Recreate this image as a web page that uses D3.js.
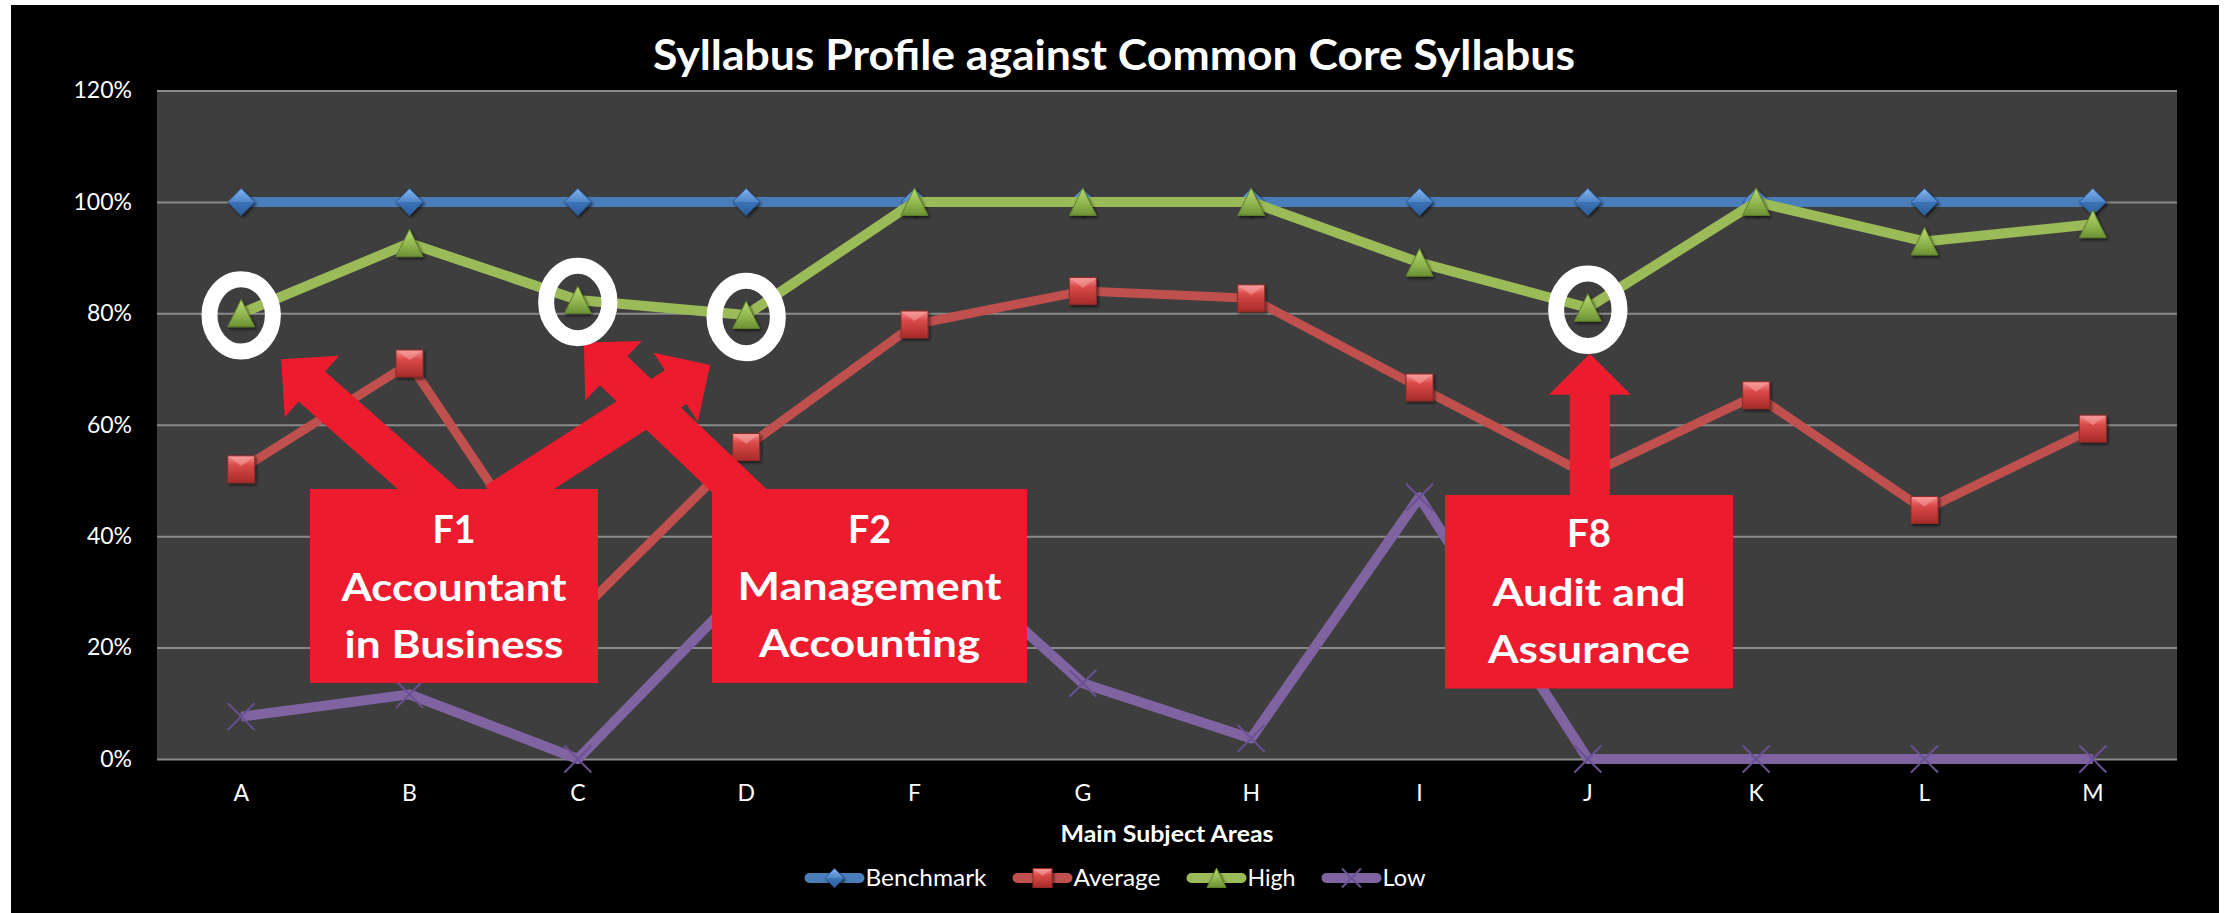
<!DOCTYPE html>
<html><head><meta charset="utf-8">
<script src="https://cdn.jsdelivr.net/npm/d3@7"></script>
<style>
body{margin:0;background:#fff}
text{font-family:Lato,"Open Sans",sans-serif}
</style>
</head><body>
<svg id="chart" width="2231" height="913"></svg>
<script>
// ---------------- data ----------------
const categories = ["A","B","C","D","F","G","H","I","J","K","L","M"];
const benchmark  = [1.00,1.00,1.00,1.00,1.00,1.00,1.00,1.00,1.00,1.00,1.00,1.00];
const average    = [0.52,0.71,0.26,0.56,0.78,0.84,0.827,0.667,0.51,0.653,0.447,0.593];
const high       = [0.80,0.926,0.824,0.797,1.00,1.00,1.00,0.891,0.81,1.00,0.929,0.96];
const low        = [0.076,0.116,0.00,0.31,0.41,0.136,0.037,0.47,0.00,0.00,0.00,0.00];
const seriesNames = ["Benchmark","Average","High","Low"];
const yTicks = [0,0.2,0.4,0.6,0.8,1.0,1.2];
const chartTitle = "Syllabus Profile against Common Core Syllabus";
const xAxisTitle = "Main Subject Areas";
const calloutLines = [["F1","Accountant","in Business"],["F2","Management","Accounting"],["F8","Audit and","Assurance"]];
const circledCats = ["A","C","D","J"];

// ---------------- layout / style ----------------
const W = 2231, H = 913;
const chartBox = {x:11, y:5, w:2208, h:908};
const plot = {l:157, r:2177, t:90.5, b:759};
const styles = {
  Benchmark:{color:"#4a7ebb", width:10, marker:"diamond"},
  Average:{color:"#c0504d", width:9, marker:"square"},
  High:{color:"#9bbb59", width:10, marker:"triangle"},
  Low:{color:"#8064a2", width:10, marker:"x"}
};
const boxes = [
  {x0:310, x1:598, y0:489, y1:683, base:[543,601,658], tw:[43,225,219]},
  {x0:712, x1:1027, y0:489, y1:683, base:[543,600,657], tw:[43,264,221]},
  {x0:1445, x1:1733, y0:495, y1:688.5, base:[547,605.5,663], tw:[44,193,202]}
];
const arrows = [
  {cat:"A", tail:[428,489], off:[40,46]},
  {cat:"D", tail:[517,489], off:[-36,50]},
  {cat:"C", tail:[737.5,489], off:[6,42.5]},
  {cat:"J", tail:null, box:2, off:[2,46]}
];
const boxRed = "#ec1c2e";

const svg = d3.select("#chart");
const defs = svg.append("defs");

// gradients
function grad(id, stops){
  const g = defs.append("linearGradient").attr("id",id).attr("x1",0).attr("y1",0).attr("x2",0).attr("y2",1);
  stops.forEach(s=>g.append("stop").attr("offset",s[0]).attr("stop-color",s[1]));
}
grad("gDiamond",[[0,"#82b2ee"],[0.5,"#4f86c9"],[0.51,"#3b72b6"],[1,"#2c5e9c"]]);
grad("gSquare",[[0,"#f59090"],[0.35,"#d94a48"],[1,"#a82a28"]]);
grad("gTri",[[0,"#b9da72"],[0.6,"#8db34c"],[1,"#6b9134"]]);
const f = defs.append("filter").attr("id","shadow").attr("x","-50%").attr("y","-50%").attr("width","200%").attr("height","200%");
f.append("feDropShadow").attr("dx",1.5).attr("dy",2).attr("stdDeviation",1.5).attr("flood-color","#000").attr("flood-opacity",0.6);

// backgrounds
svg.append("rect").attr("width",W).attr("height",H).attr("fill","#fff");
svg.append("rect").attr("x",chartBox.x).attr("y",chartBox.y).attr("width",chartBox.w).attr("height",chartBox.h).attr("fill","#000");
svg.append("rect").attr("x",plot.l).attr("y",plot.t).attr("width",plot.r-plot.l).attr("height",plot.b-plot.t).attr("fill","#3e3e3e");

// scales
const x = d3.scaleBand().domain(categories).range([plot.l, plot.r]);
const xc = c => x(c) + x.bandwidth()/2;
const y = d3.scaleLinear().domain([0,1.2]).range([plot.b, plot.t]);

// gridlines
const grid = svg.append("g").attr("transform",`translate(${plot.l},0)`)
  .call(d3.axisLeft(y).tickValues(yTicks).tickSize(-(plot.r-plot.l)).tickFormat(""));
grid.select(".domain").remove();
grid.selectAll("line").attr("stroke","#8a8a8a").attr("stroke-width",2);

// y axis labels
const ya = svg.append("g").attr("transform",`translate(${plot.l},0)`)
  .call(d3.axisLeft(y).tickValues(yTicks).tickSize(0).tickPadding(25).tickFormat(d3.format(".0%")));
ya.select(".domain").remove();
ya.selectAll("text").attr("fill","#fff").style("font-size","23px").style("font-family","Lato");

// x axis labels
const xa = svg.append("g").attr("transform",`translate(0,${plot.b})`)
  .call(d3.axisBottom(x).tickSize(0).tickPadding(26));
xa.select(".domain").remove();
xa.selectAll("text").attr("fill","#fff").style("font-size","23px").style("font-family","Lato");

// titles
svg.append("text").attr("x",chartBox.x+chartBox.w/2-1).attr("y",70).attr("text-anchor","middle")
  .attr("fill","#fff").style("font-size","42px").style("font-weight","bold")
  .attr("textLength",922).attr("lengthAdjust","spacingAndGlyphs").text(chartTitle);
svg.append("text").attr("x",(plot.l+plot.r)/2).attr("y",841.5).attr("text-anchor","middle")
  .attr("fill","#fff").style("font-size","22px").style("font-weight","bold")
  .attr("textLength",213).attr("lengthAdjust","spacingAndGlyphs").text(xAxisTitle);

// markers
function drawMarker(g, type, s){
  const h = s/2;
  if(type==="diamond"){
    g.append("path").attr("d",`M0,${-h}L${h},0L0,${h}L${-h},0Z`).attr("fill","url(#gDiamond)").attr("stroke","#2a5a92").attr("stroke-width",1).attr("filter","url(#shadow)");
  } else if(type==="square"){
    g.append("rect").attr("x",-h).attr("y",-h).attr("width",s).attr("height",s).attr("fill","url(#gSquare)").attr("stroke","#8e2c2a").attr("stroke-width",1).attr("filter","url(#shadow)");
    g.append("path").attr("d",`M${-h+1},${-h+1}L0,${-h*0.25}L${h-1},${-h+1}Z`).attr("fill","#f7a4a4").attr("opacity",0.55);
  } else if(type==="triangle"){
    g.append("path").attr("d",`M0,${-h-0.5}L${h},${h}L${-h},${h}Z`).attr("fill","url(#gTri)").attr("stroke","#5f7f2c").attr("stroke-width",1).attr("filter","url(#shadow)");
  } else {
    g.append("path").attr("d",`M${-h},${-h}L${h},${h}M${-h},${h}L${h},${-h}`).attr("stroke","#6a5193").attr("stroke-width",2).attr("fill","none");
  }
}

// series
const seriesData = [benchmark, average, high, low];
const line = d3.line().x((d,i)=>xc(categories[i])).y(d=>y(d));
seriesNames.forEach((name,si)=>{
  const st = styles[name];
  const g = svg.append("g");
  g.append("path").attr("d",line(seriesData[si])).attr("fill","none").attr("stroke",st.color)
   .attr("stroke-width",st.width).attr("stroke-linejoin","round");
  seriesData[si].forEach((v,i)=>{
    const mg = g.append("g").attr("transform",`translate(${xc(categories[i])},${y(v)})`);
    drawMarker(mg, st.marker, 27);
  });
});

// legend
const legendW = [121,87,48,43];
let total = legendW.reduce((a,b)=>a+b,0) + 61*4 + 26*3;
let cx = chartBox.x + chartBox.w/2 - total/2;
const ly = 878;
seriesNames.forEach((name,i)=>{
  const st = styles[name];
  const g = svg.append("g");
  g.append("rect").attr("x",cx).attr("y",ly-5).attr("width",60).attr("height",10).attr("rx",5).attr("fill",st.color);
  const mg = g.append("g").attr("transform",`translate(${cx+30},${ly})`);
  drawMarker(mg, st.marker, 19);
  g.append("text").attr("x",cx+61).attr("y",886).attr("fill","#fff").style("font-size","23px")
   .attr("textLength",legendW[i]).attr("lengthAdjust","spacingAndGlyphs").text(name);
  cx += 61 + legendW[i] + 26;
});

// annotations: arrows
const hiIdx = c => categories.indexOf(c);
function arrowPoly(T, P, w, hw, hl){
  const dx=P[0]-T[0], dy=P[1]-T[1], L=Math.hypot(dx,dy);
  const u=[dx/L,dy/L], n=[-u[1],u[0]];
  const Te=[T[0]-u[0]*25, T[1]-u[1]*25];
  const B=[P[0]-u[0]*hl, P[1]-u[1]*hl];
  const pt=(p,k)=>[p[0]+n[0]*k, p[1]+n[1]*k];
  return [pt(Te,w/2), pt(B,w/2), pt(B,hw/2), P, pt(B,-hw/2), pt(B,-w/2), pt(Te,-w/2)];
}
const ag = svg.append("g");
arrows.forEach(a=>{
  const i = hiIdx(a.cat);
  const P = [xc(a.cat)+a.off[0], y(high[i])+a.off[1]];
  const T = a.tail ? a.tail : [P[0], boxes[a.box].y0];
  ag.append("polygon").attr("points",arrowPoly(T,P,40,82,41).map(p=>p.join(",")).join(" ")).attr("fill",boxRed);
});

// boxes
boxes.forEach((b,bi)=>{
  svg.append("rect").attr("x",b.x0).attr("y",b.y0).attr("width",b.x1-b.x0).attr("height",b.y1-b.y0).attr("fill",boxRed);
  calloutLines[bi].forEach((t,li)=>{
    svg.append("text").attr("x",(b.x0+b.x1)/2).attr("y",b.base[li]).attr("text-anchor","middle")
      .attr("fill","#fff").style("font-size","38px").style("font-weight","bold")
      .attr("textLength",b.tw[li]).attr("lengthAdjust","spacingAndGlyphs").text(t);
  });
});

// circles
circledCats.forEach(c=>{
  const i = hiIdx(c);
  svg.append("ellipse").attr("cx",xc(c)).attr("cy",y(high[i])+2).attr("rx",31.7).attr("ry",36.2)
    .attr("fill","none").attr("stroke","#fff").attr("stroke-width",16);
});
</script>
</body></html>
